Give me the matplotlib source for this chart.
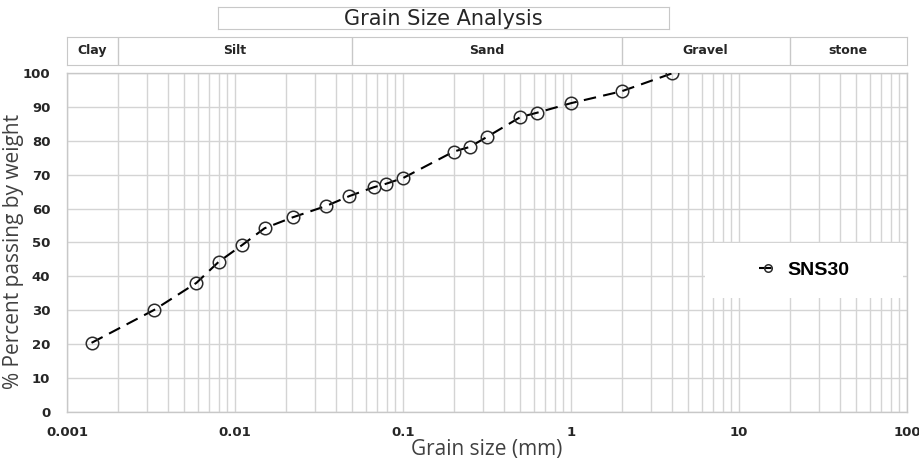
import matplotlib.pyplot as plt
from matplotlib.patches import Rectangle
import numpy as np

# Grain size distribution, sample SNS30
grain_mm = [0.0014, 0.0033, 0.0059, 0.008, 0.011, 0.015, 0.022, 0.035, 0.048,
            0.067, 0.079, 0.1, 0.2, 0.25, 0.315, 0.5, 0.63, 1.0, 2.0, 4.0]
passing = [20.4, 30.1, 38.1, 44.3, 49.2, 54.2, 57.4, 60.8, 63.7,
           66.3, 67.3, 69.0, 76.8, 78.2, 81.1, 87.0, 88.3, 91.1, 94.6, 99.9]

# Soil classes and their size limits (mm)
classes = ['Clay', 'Silt', 'Sand', 'Gravel', 'stone']
class_edges = [0.001, 0.002, 0.05, 2, 20, 100]

x_ticks = [0.001, 0.01, 0.1, 1, 10, 100]
x_tick_labels = ['0.001', '0.01', '0.1', '1', '10', '100']
y_ticks = list(range(0, 101, 10))

GRID = '#d4d4d4'
BORDER = '#c8c8c8'
TEXT = '#262626'

fig = plt.figure(figsize=(9.2, 4.67), dpi=100)

# Main plot
ax = fig.add_axes([0.0728, 0.1178, 0.9131, 0.7259])
ax.set_xscale('log')
ax.set_xlim(0.001, 100)
ax.set_ylim(0, 100)

ax.plot(grain_mm, passing, color='black', lw=1.5, ls=(0, (6, 3.5)),
        marker='o', ms=9, mfc='none', mec='#2a2a2a', mew=1.1, label='SNS30',
        zorder=3)

ax.set_xticks(x_ticks)
ax.set_xticklabels(x_tick_labels)
ax.set_yticks(y_ticks)
ax.tick_params(axis='both', which='both', length=0, labelsize=9.5,
               labelcolor=TEXT)
for lbl in ax.get_xticklabels() + ax.get_yticklabels():
    lbl.set_fontweight('bold')
    lbl.set_family('DejaVu Sans')
ax.tick_params(axis='x', pad=10)
ax.tick_params(axis='y', pad=12)

ax.grid(True, which='major', axis='both', color=GRID, lw=1.0)
ax.grid(True, which='minor', axis='x', color=GRID, lw=1.0)
for s in ax.spines.values():
    s.set_color(BORDER)
    s.set_linewidth(1.0)

ax.set_xlabel('Grain size (mm)', fontsize=15, family='Open Sans',
              color='#404040', labelpad=0)
ax.set_ylabel('% Percent passing by weight', fontsize=15, family='Open Sans',
              color='#404040')
ax.yaxis.set_label_coords(-0.051, 0.475)

# Legend sits on a white panel inside the plot
ax.add_patch(Rectangle((0.76, 0.336), 0.235, 0.163, transform=ax.transAxes,
                       facecolor='white', edgecolor='none', zorder=4))
leg = ax.legend(loc='center', bbox_to_anchor=(0.76, 0.336, 0.235, 0.163),
                bbox_transform=ax.transAxes, frameon=False,
                handlelength=1.0, markerscale=0.6, handletextpad=0.5,
                prop={'family': 'Liberation Sans', 'weight': 'bold',
                      'size': 14})
leg.set_zorder(5)

# Soil class header band
hdr = fig.add_axes([0.0728, 0.861, 0.9131, 0.06])
hdr.set_xscale('log')
hdr.set_xlim(0.001, 100)
hdr.set_ylim(0, 1)
hdr.set_xticks([])
hdr.set_yticks([])
hdr.minorticks_off()
for s in hdr.spines.values():
    s.set_color(BORDER)
for edge in class_edges[1:-1]:
    hdr.axvline(edge, color=BORDER, lw=1.0)
for name, lo, hi in zip(classes, class_edges[:-1], class_edges[1:]):
    hdr.text(np.sqrt(lo * hi), 0.5, name, ha='center', va='center',
             fontsize=9, fontweight='bold', family='DejaVu Sans',
             color=TEXT)

# Title box
tbox = fig.add_axes([0.237, 0.938, 0.490, 0.047])
tbox.set_xticks([])
tbox.set_yticks([])
for s in tbox.spines.values():
    s.set_color(BORDER)
tbox.text(0.5, 0.45, 'Grain Size Analysis', ha='center', va='center',
          fontsize=15, family='DejaVu Sans', color=TEXT)

fig.savefig('out.png', dpi=100)
